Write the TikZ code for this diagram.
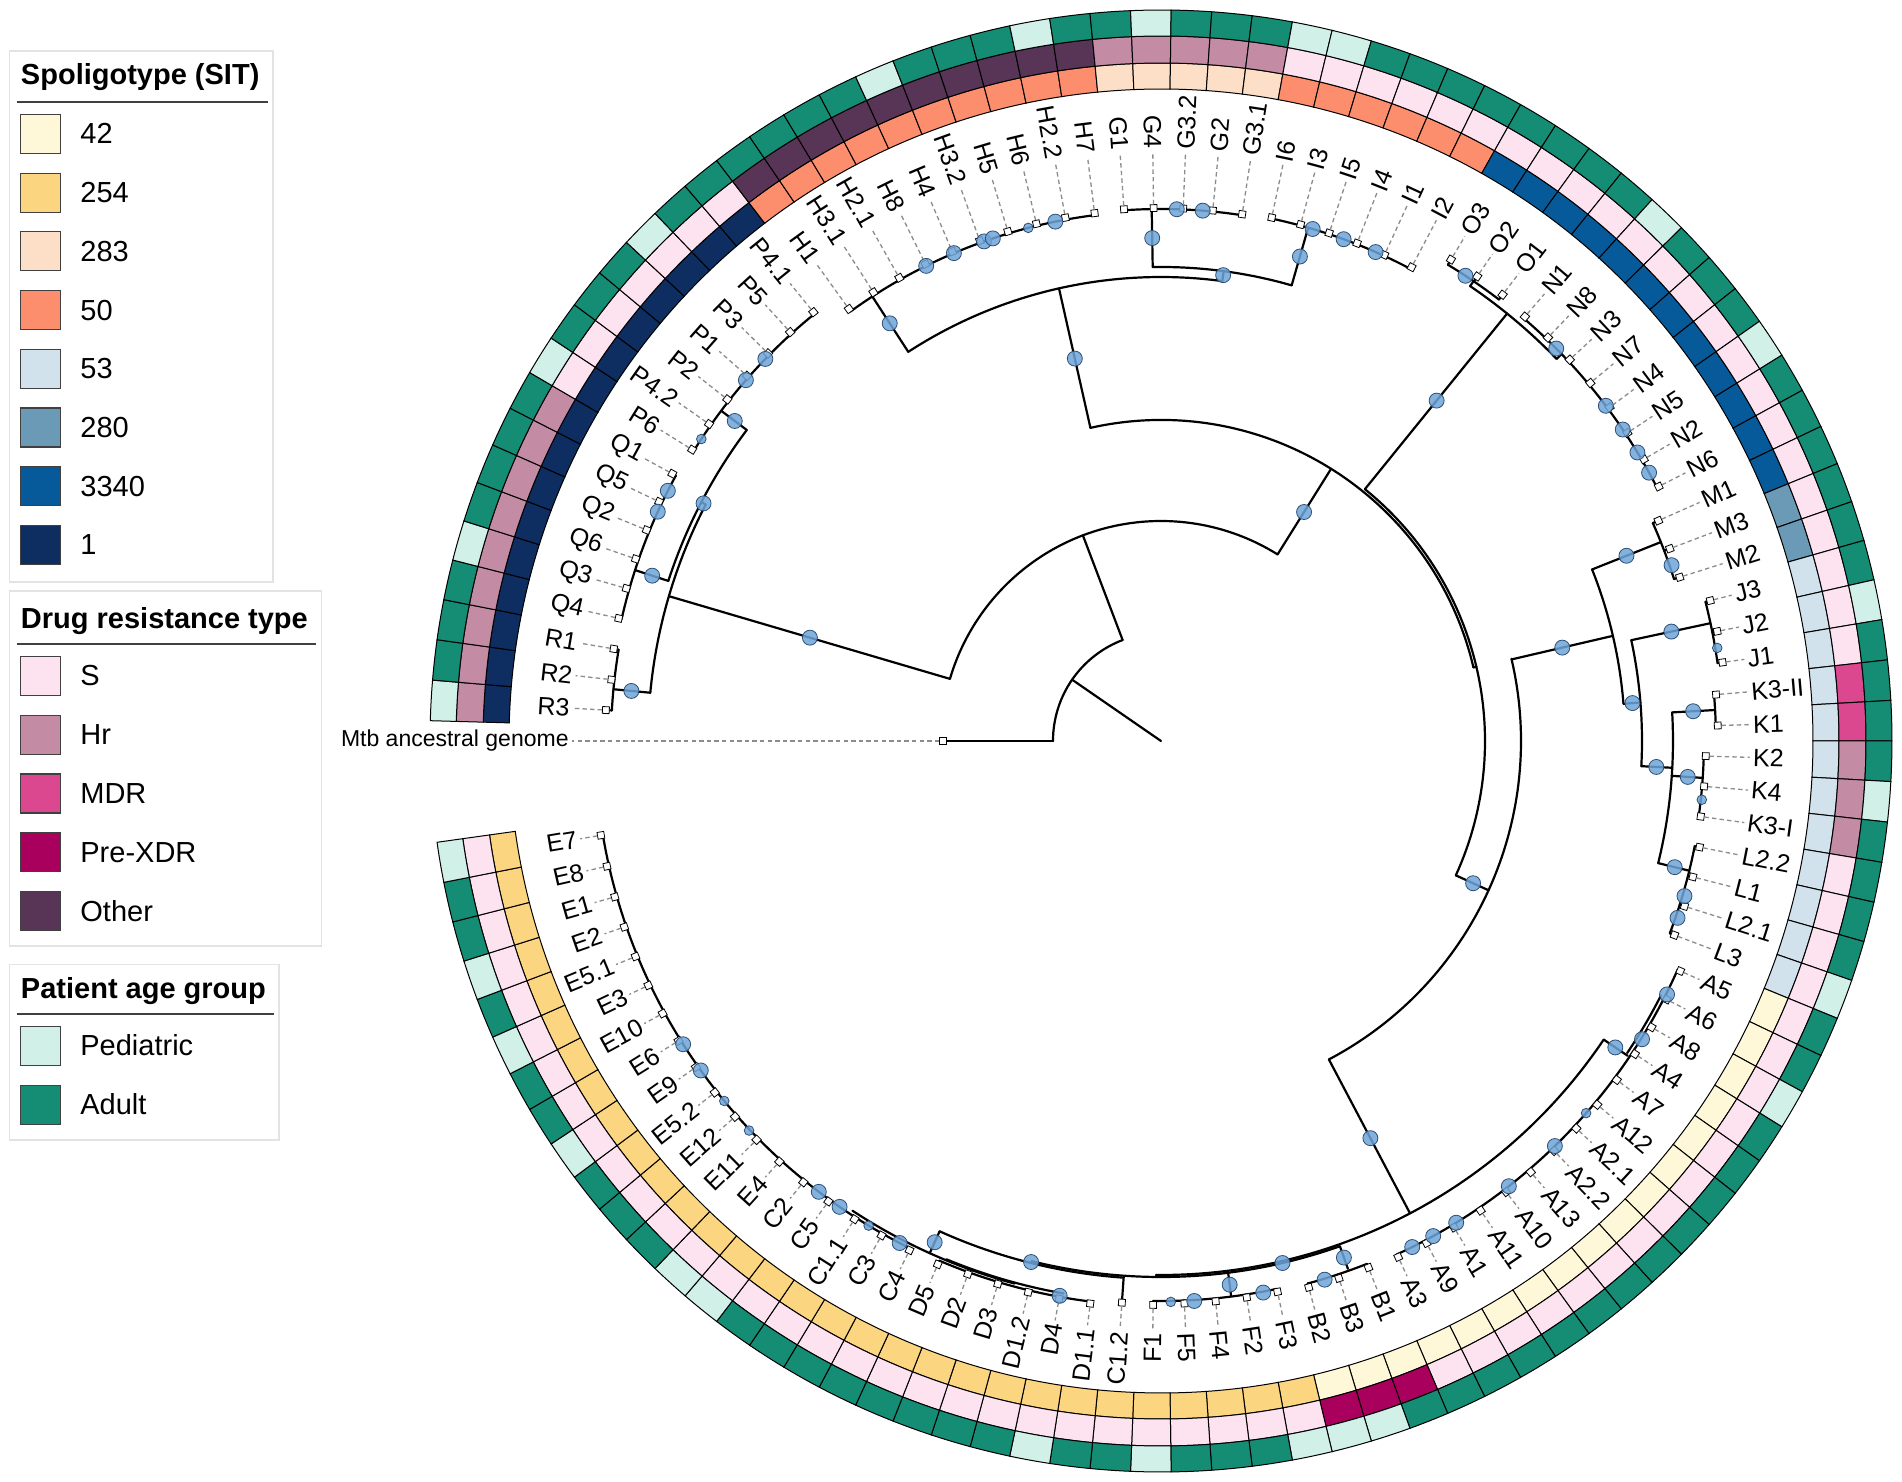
\documentclass[tikz,border=0pt]{standalone}
\usepackage{fontspec}
\setmainfont{Liberation Sans}
\definecolor{spA}{HTML}{FFF8D8}
\definecolor{spB}{HTML}{FBD580}
\definecolor{spC}{HTML}{FDDEC6}
\definecolor{spD}{HTML}{FC8E6D}
\definecolor{spE}{HTML}{D1E2EC}
\definecolor{spF}{HTML}{6A9AB6}
\definecolor{spG}{HTML}{075A99}
\definecolor{spH}{HTML}{0E2D61}
\definecolor{drS}{HTML}{FDE3F0}
\definecolor{drH}{HTML}{C48BA4}
\definecolor{drM}{HTML}{DC4890}
\definecolor{drX}{HTML}{A9005E}
\definecolor{drO}{HTML}{583556}
\definecolor{agP}{HTML}{D1F1E8}
\definecolor{agA}{HTML}{158D74}
\definecolor{dotF}{HTML}{6FA5DA}
\definecolor{dotD}{HTML}{2E4F73}
\definecolor{dashC}{HTML}{8C8C8C}
\definecolor{legB}{HTML}{E3E3E3}
\tikzset{
 brl/.style={line width=1.1pt, line cap=round, line join=round},
 cellst/.style={draw=black, line width=0.5pt},
 tipsq/.style={rectangle, draw=black, fill=white, line width=0.4pt, minimum size=3.4pt, inner sep=0pt},
 leaflab/.style={font=\fontsize{12.5}{14}\selectfont, inner sep=1.5pt},
 anclab/.style={font=\fontsize{11.5}{13}\selectfont, inner sep=1.5pt},
 dashln/.style={draw=dashC, line width=0.65pt, dash pattern=on 2.2pt off 1.6pt},
 dotst/.style={fill=dotF, draw=dotD, line width=0.4pt, fill opacity=0.85},
 legtitle/.style={font=\bfseries\fontsize{14.5}{17}\selectfont, inner sep=0pt},
 legtext/.style={font=\fontsize{14.5}{17}\selectfont, inner sep=0pt},
 legbox/.style={draw=legB, line width=0.7pt},
 legrule/.style={draw=black!75, line width=0.7pt},
 legsw/.style={draw=black!75, line width=0.6pt},
}
\newcommand\LA[1]{180-#1*3.185841}
\newcommand\TB[3]{\draw[brl] (#1:#2) -- (#1:#3);}
\newcommand\TA[3]{\draw[brl] (#2:#1) arc[start angle=#2, end angle=#3, radius=#1];}
\newcommand\TD[2]{\filldraw[dotst] (#1:#2) circle[radius=7.5];}
\newcommand\TS[2]{\filldraw[dotst] (#1:#2) circle[radius=4.8];}
\def\leafdata{1/R3/550/556/H/H/P, 2/R2/550/553/H/H/A, 3/R1/550/555/H/H/A,
4/Q4/553/556/H/H/A, 5/Q3/553/556/H/H/P, 6/Q6/553/556/H/H/A, 7/Q2/553/556/H/H/A, 8/Q5/553/556/H/H/A, 9/Q1/553/557/H/H/A,
10/P6/550/552/H/S/P, 11/P4.2/550/552/H/S/A, 12/P2/550/552/H/S/A, 13/P1/550/552/H/S/A, 14/P3/550/552/H/S/P, 15/P5/550/552/H/S/A, 16/P4.1/550/552/H/S/A,
17/H1/530/533/D/O/A, 18/H3.1/530/533/D/O/A, 19/H2.1/530/532/D/O/A, 20/H8/530/532/D/O/A, 21/H4/530/532/D/O/P, 22/H3.2/530/532/D/O/A, 23/H5/530/532/D/O/A, 24/H6/530/532/D/O/A, 25/H2.2/530/532/D/O/P, 26/H7/530/532/D/O/A,
27/G1/532/533/C/H/A, 28/G4/532/533/C/H/P, 29/G3.2/532/533/C/H/A, 30/G2/532/533/C/H/A, 31/G3.1/532/533/C/H/A,
32/I6/534/535/D/S/P, 33/I3/534/535/D/S/P, 34/I5/534/535/D/S/A, 35/I4/534/535/D/S/A, 36/I1/534/535/D/S/A, 37/I2/534/536/D/S/A,
38/O3/556/562/G/S/A, 39/O2/556/562/G/S/A, 40/O1/556/562/G/S/A,
41/N1/557/559/G/S/A, 42/N8/557/559/G/S/P, 43/N3/557/559/G/S/A, 44/N7/557/559/G/S/A, 45/N4/557/559/G/S/A, 46/N5/557/559/G/S/P, 47/N2/557/559/G/S/A, 48/N6/557/559/G/S/A,
49/M1/538/544/G/S/A, 50/M3/538/544/F/S/A, 51/M2/538/544/F/S/A,
52/J3/562/567/E/S/A, 53/J2/562/567/E/S/P, 54/J1/562/567/E/S/A,
55/K3-II/555/557/E/M/A, 56/K1/555/557/E/M/A, 57/K2/543/545/E/H/A, 58/K4/543/545/E/H/P, 59/K3-I/543/545/E/H/A,
60/L2.2/544/549/E/S/A, 61/L1/544/549/E/S/A, 62/L2.1/544/549/E/S/A, 63/L3/544/549/E/S/P,
64/A5/565/568/A/S/A, 65/A6/565/568/A/S/A, 66/A8/565/568/A/S/P, 67/A4/565/568/A/S/A, 68/A7/565/568/A/S/A, 69/A12/565/568/A/S/A, 70/A2.1/565/568/A/S/A, 71/A2.2/565/568/A/S/A, 72/A13/565/568/A/S/A, 73/A10/565/568/A/S/A, 74/A11/565/568/A/S/A, 75/A1/565/568/A/S/A, 76/A9/565/568/A/S/A, 77/A3/565/568/A/S/A,
78/B1/562/566/A/X/A, 79/B3/562/566/A/X/P, 80/B2/562/566/A/X/P,
81/F3/560/563/B/S/P, 82/F2/560/563/B/S/A, 83/F4/560/563/B/S/A, 84/F5/560/563/B/S/A, 85/F1/560/564/B/S/P,
86/C1.2/537.5/563/B/S/A,
87/D1.1/565/567/B/S/A, 88/D4/565/567/B/S/P, 89/D1.2/565/567/B/S/A, 90/D3/565/567/B/S/A, 91/D2/565/567/B/S/A, 92/D5/565/569/B/S/A,
93/C4/566/568/B/S/A, 94/C3/566/568/B/S/A, 95/C1.1/566/568/B/S/A, 96/C5/566/568/B/S/A, 97/C2/566/568/B/S/P,
98/E4/566/568/B/S/P, 99/E11/566/568/B/S/A, 100/E12/566/568/B/S/A, 101/E5.2/566/568/B/S/A, 102/E9/566/568/B/S/P, 103/E6/566/568/B/S/A, 104/E10/566/568/B/S/A, 105/E3/566/568/B/S/P, 106/E5.1/566/568/B/S/A, 107/E2/566/568/B/S/P, 108/E1/566/568/B/S/A, 109/E8/566/568/B/S/A, 110/E7/566/568/B/S/P}
\begin{document}
\begin{tikzpicture}[x=0.5pt,y=0.5pt]
\useasboundingbox (-1161,-741) rectangle (741,741);
\fill[white] (-1161,-741) rectangle (741,741);
% ---------- rings ----------
\foreach \i/\lab/\rp/\rt/\cs/\cd/\ca in \leafdata {
  \pgfmathsetmacro\lo{180-\i*3.185841-1.592920}
  \pgfmathsetmacro\hi{180-\i*3.185841+1.592920}
  \filldraw[cellst, fill=sp\cs] (\lo:652) arc[start angle=\lo, end angle=\hi, radius=652] -- (\hi:678) arc[start angle=\hi, end angle=\lo, radius=678] -- cycle;
  \filldraw[cellst, fill=dr\cd] (\lo:678) arc[start angle=\lo, end angle=\hi, radius=678] -- (\hi:705) arc[start angle=\hi, end angle=\lo, radius=705] -- cycle;
  \filldraw[cellst, fill=ag\ca] (\lo:705) arc[start angle=\lo, end angle=\hi, radius=705] -- (\hi:731) arc[start angle=\hi, end angle=\lo, radius=731] -- cycle;
}
% ---------- tree ----------
\TB{145.4}{0}{108}
\TA{108}{180}{110.8}
\TB{180}{108}{218}
\TB{110.8}{108}{220}
\TA{220}{163.6}{58}
% R Q P
\TB{163.6}{220}{513}
\TA{513}{174.6}{152.55}
\TB{174.6}{513}{550}
\TA{550}{\LA{1}}{\LA{3}}
\TB{152.55}{513}{518}
\TA{518}{162}{143.1}
\TB{162}{518}{553}
\TA{553}{\LA{4}}{\LA{9}}
\TB{143.1}{518}{550}
\TA{550}{\LA{10}}{\LA{16}}
% N_B
\TB{58}{220}{321}
\TA{321}{102.7}{13.25}
% H G I
\TB{102.7}{321}{464}
\TA{464}{123}{82.4}
\TB{123}{464}{530}
\TA{530}{\LA{17}}{\LA{26}}
\TB{82.4}{464}{474}
\TA{474}{91}{74}
\TB{91}{474}{532}
\TA{532}{\LA{27}}{\LA{31}}
\TB{74}{474}{534}
\TA{534}{\LA{32}}{\LA{37}}
% N_C, O N
\TB{13.25}{321}{324}
\TA{324}{51}{-24.5}
\TB{51}{324}{550}
\TA{550}{55.8}{44}
\TB{55.8}{550}{556}
\TA{556}{\LA{38}}{\LA{40}}
\TB{44}{550}{557}
\TA{557}{\LA{41}}{\LA{48}}
% N_D, M J K L
\TB{-24.5}{324}{360}
\TA{360}{13.2}{-62.2}
\TB{13.1}{360}{464}
\TA{464}{21.7}{4.6}
\TB{21.7}{464}{538}
\TA{538}{\LA{49}}{\LA{51}}
\TB{4.6}{464}{481}
\TA{481}{12.1}{-3}
\TB{12.1}{481}{562}
\TA{562}{\LA{52}}{\LA{54}}
\TB{-3}{481}{512}
\TA{512}{3.2}{-13.8}
\TB{3.2}{512}{555}
\TA{555}{\LA{55}}{\LA{56}}
\TB{-3.9}{512}{543}
\TA{543}{\LA{57}}{\LA{59}}
\TB{-13.8}{512}{544}
\TA{544}{\LA{60}}{\LA{63}}
% A B F C D E
\TB{-62.2}{360}{534}
\TA{534}{-34}{-90.5}
\TB{-34}{534}{563}
\TA{565}{\LA{64}}{\LA{77}}
\TA{561}{-27}{-33.8}
\TB{-90.5}{534}{536}
\TA{536}{-70.5}{-104}
\TB{-70.5}{536}{560}
\TA{562}{\LA{78}}{\LA{80}}
\TB{-82.8}{536}{559}
\TA{560}{\LA{81}}{\LA{85}}
\TA{538}{\LA{86}}{-114.3}
\TB{-114.3}{538}{562}
\TA{562}{-105.1}{-123.3}
\TA{565}{\LA{87}}{\LA{92}}
\TA{561}{-100}{-112.5}
\TA{566}{\LA{93}}{\LA{110}}
% ---------- ancestral leaf ----------
\node[tipsq] (t0) at (180:218) {};
\node[anclab, anchor=east] (l0) at (180:589) {Mtb ancestral genome};
\draw[dashln] (t0) -- (l0);
% ---------- leaves ----------
\foreach \i/\lab/\rp/\rt/\cs/\cd/\ca in \leafdata {
  \pgfmathsetmacro\ang{180-\i*3.185841}
  \draw[brl] (\ang:\rp) -- (\ang:\rt);
  \node[tipsq, rotate=\ang] (t\i) at (\ang:\rt) {};
  \pgfmathtruncatemacro\side{cos(\ang)>=0 ? 1 : 0}
  \ifnum\side=1
    \node[leaflab, anchor=west, rotate=\ang] (l\i) at (\ang:589) {\lab};
  \else
    \node[leaflab, anchor=east, rotate=\ang+180] (l\i) at (\ang:589) {\lab};
  \fi
  \draw[dashln] (t\i) -- (l\i);
}
% ---------- support dots ----------
\TD{163.6}{366} \TD{174.6}{532} \TD{152.55}{515.5} \TD{162}{535}
\TD{155.5}{553} \TD{153.1}{553} \TD{143.1}{533}
\TS{146.7}{550} \TD{139}{550} \TD{136}{550}
\TD{58}{270} \TD{102.7}{392} \TD{123}{498}
\TD{116.3}{530} \TD{113}{530} \TD{109.5}{530} \TD{108.5}{530} \TS{104.5}{530} \TD{101.5}{530}
\TD{82.4}{470} \TD{91}{503} \TD{88.3}{532} \TD{85.5}{532}
\TD{74}{504} \TD{73.5}{534} \TD{70}{534} \TD{66.3}{534}
\TD{51}{438} \TD{56.8}{556}
\TD{44.8}{557} \TD{37}{557} \TD{34}{557} \TD{31.2}{557} \TD{28.8}{557}
\TD{-24.5}{343} \TD{13.1}{412} \TD{21.7}{501} \TD{19}{540}
\TD{4.6}{473} \TD{12.1}{522} \TS{9.5}{564}
\TD{-3}{496} \TD{3.2}{533} \TD{-3.9}{528} \TS{-6.2}{544}
\TD{-13.8}{529} \TD{-16.5}{546} \TD{-18.9}{546}
\TD{-62.2}{449} \TD{-34}{548}
\TD{-26.6}{566} \TD{-31.8}{566} \TS{-41.2}{565} \TD{-45.8}{565} \TD{-52}{565} \TD{-58.5}{565} \TD{-61.2}{565} \TD{-63.6}{565}
\TD{-76.9}{536} \TD{-70.5}{548} \TD{-73.1}{563}
\TD{-82.8}{548} \TD{-79.5}{561} \TD{-86.6}{561} \TS{-89}{561}
\TD{-104}{537} \TD{-114.3}{550} \TD{-100.35}{564}
\TD{-117.5}{566} \TS{-121.1}{566} \TD{-124.6}{566} \TD{-127.2}{566} \TS{-136.6}{567} \TS{-140.5}{566} \TD{-144.4}{566} \TD{-147.6}{566}
% ---------- legends ----------
\begin{scope}[shift={(-1161,741)}, yscale=-1]
 \draw[legbox] (9.7,51) rectangle (273,582);
 \node[legtitle, anchor=base west] (lt1) at (20.6,85) {Spoligotype (SIT)};
 \draw[legrule] (17,101.9) -- (268,101.9);
 \foreach \k/\c/\t in {0/spA/42, 1/spB/254, 2/spC/283, 3/spD/50, 4/spE/53, 5/spF/280, 6/spG/3340, 7/spH/1} {
   \pgfmathsetmacro\yy{134+58.7*\k}
   \filldraw[legsw, fill=\c] (20.6,\yy-19.5) rectangle (60.6,\yy+19.5);
   \node[legtext, anchor=base west] (ls\k) at (80,\yy+10) {\t};
 }
 \draw[legbox] (9.7,591) rectangle (321.5,946);
 \node[legtitle, anchor=base west] (lt2) at (20.6,628.6) {Drug resistance type};
 \draw[legrule] (17,644) -- (316,644);
 \foreach \k/\c/\t in {0/drS/S, 1/drH/Hr, 2/drM/MDR, 3/drX/Pre-XDR, 4/drO/Other} {
   \pgfmathsetmacro\yy{676+58.8*\k}
   \filldraw[legsw, fill=\c] (20.6,\yy-19.5) rectangle (60.6,\yy+19.5);
   \node[legtext, anchor=base west] (ld\k) at (80,\yy+10) {\t};
 }
 \draw[legbox] (9.7,964.3) rectangle (279,1140);
 \node[legtitle, anchor=base west] (lt3) at (20.6,998.6) {Patient age group};
 \draw[legrule] (17,1014) -- (274,1014);
 \foreach \k/\c/\t in {0/agP/Pediatric, 1/agA/Adult} {
   \pgfmathsetmacro\yy{1046+59*\k}
   \filldraw[legsw, fill=\c] (20.6,\yy-19.5) rectangle (60.6,\yy+19.5);
   \node[legtext, anchor=base west] (la\k) at (80,\yy+10) {\t};
 }
\end{scope}
\end{tikzpicture}
\end{document}
